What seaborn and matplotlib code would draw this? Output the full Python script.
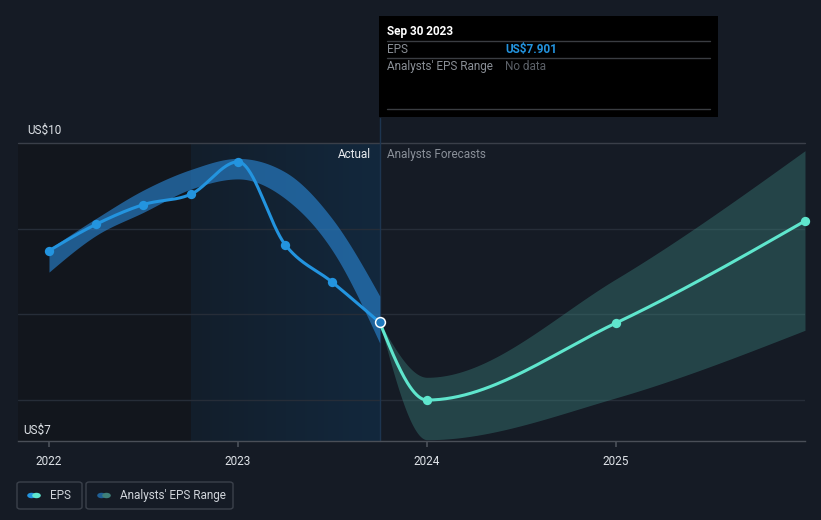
import numpy as np
import pandas as pd
import matplotlib
matplotlib.use("Agg")
import matplotlib.pyplot as plt
import seaborn as sns
from matplotlib.patches import Rectangle, FancyBboxPatch, Circle
from matplotlib.lines import Line2D
from matplotlib.colors import LinearSegmentedColormap

# ---------------- data ----------------
actual_dates = [2022.0, 2022.25, 2022.5, 2022.75, 2023.0, 2023.25, 2023.5, 2023.75]
actual_eps = [8.74, 9.05, 9.28, 9.40, 9.78, 8.81, 8.37, 7.901]

past_band_dates = [2022.0, 2022.25, 2022.5, 2022.75, 2023.0, 2023.25, 2023.5, 2023.75]
past_band_upper = [8.76, 9.12, 9.45, 9.69, 9.82, 9.66, 9.11, 8.21]
past_band_lower = [8.49, 8.92, 9.19, 9.46, 9.58, 9.35, 8.74, 7.66]

fc_dates = [2023.75, 2024.0, 2025.0, 2026.0]
fc_eps = [7.901, 6.994, 7.895, 9.088]
fc_upper = [7.901, 7.26, 8.41, 9.91]
fc_lower = [7.901, 6.53, 7.02, 7.81]

ytick_labels = ["US$10", "US$7"]
xtick_vals = [2022, 2023, 2024, 2025]
xtick_labels = ["2022", "2023", "2024", "2025"]

# ---------------- helpers ----------------
def monotone(x, y, n=60):
    x = np.asarray(x, float); y = np.asarray(y, float)
    h = np.diff(x); s = np.diff(y) / h
    m = np.zeros_like(y)
    for i in range(1, len(y) - 1):
        p = (s[i-1] * h[i] + s[i] * h[i-1]) / (h[i-1] + h[i])
        m[i] = (np.sign(s[i-1]) + np.sign(s[i])) * min(abs(s[i-1]), abs(s[i]), 0.5 * abs(p))
    if len(y) > 2:
        m[0] = (3 * s[0] - m[1]) / 2
        m[-1] = (3 * s[-1] - m[-2]) / 2
    else:
        m[:] = s[0]
    xs, ys = [], []
    for i in range(len(h)):
        t = np.linspace(0, 1, n, endpoint=(i == len(h) - 1))
        h00 = 2*t**3 - 3*t**2 + 1; h10 = t**3 - 2*t**2 + t
        h01 = -2*t**3 + 3*t**2; h11 = t**3 - t**2
        xs.append(x[i] + t * h[i])
        ys.append(h00*y[i] + h10*h[i]*m[i] + h01*y[i+1] + h11*h[i]*m[i+1])
    return np.concatenate(xs), np.concatenate(ys)

BG = "#151b25"
sns.set_theme(style="dark", rc={"axes.facecolor": BG, "figure.facecolor": BG})
plt.rcParams["font.family"] = ["Roboto", "DejaVu Sans"]

fig = plt.figure(figsize=(8.21, 5.20), dpi=100)
ax = fig.add_axes([18/821, 1 - 441/520, (805-18)/821, (441-143)/520])
ax.set_facecolor(BG)

XMIN, XMAX = 2021.836, 2026.0
YMIN, YMAX = 6.515, 10.0
ax.set_xlim(XMIN, XMAX)
ax.set_ylim(YMIN, YMAX)

# shaded regions
ax.axvspan(XMIN, 2022.75, color="#12161d", zorder=0, lw=0)
grad = np.linspace(0, 1, 512).reshape(1, -1)
cmap = LinearSegmentedColormap.from_list("g", ["#121e2b", "#13283d"], N=1024)
ax.imshow(grad, extent=[2022.75, 2023.75, YMIN, YMAX], aspect="auto", cmap=cmap,
          zorder=0.5, interpolation="bilinear")

# grid lines
for v in [9, 8, 7]:
    ax.axhline(v, color="#262d38", lw=1, zorder=1)
ax.axhline(10, color="#3a3f49", lw=1, zorder=1, clip_on=False)

# past band
bx, bu = monotone(past_band_dates, past_band_upper)
_, bl = monotone(past_band_dates, past_band_lower)
ax.fill_between(bx, bl, bu, color="#2a86d4", alpha=0.62, lw=0, zorder=2)

# forecast band
fx, fu = monotone(fc_dates, fc_upper)
_, fl = monotone(fc_dates, fc_lower)
ax.fill_between(fx, fl, fu, color="#3f8f88", alpha=0.36, lw=0, zorder=2)

# hover line
ax.plot([2023.75, 2023.75], [YMIN, YMAX + 25/85.5], color="#1d3550", lw=1.0, zorder=1.5, clip_on=False)

# lines
ax_x, ax_y = monotone(actual_dates, actual_eps)
df_a = pd.DataFrame({"date": ax_x, "eps": ax_y})
sns.lineplot(data=df_a, x="date", y="eps", ax=ax, color="#2394df", lw=2.2, zorder=4, sort=False)
fx2, fy2 = monotone(fc_dates, fc_eps)
df_f = pd.DataFrame({"date": fx2, "eps": fy2})
sns.lineplot(data=df_f, x="date", y="eps", ax=ax, color="#5fe6cd", lw=2.2, zorder=4, sort=False)

# points
df_ap = pd.DataFrame({"date": actual_dates[:-1], "eps": actual_eps[:-1]})
sns.scatterplot(data=df_ap, x="date", y="eps", ax=ax, color="#2394df", s=45, linewidth=0, zorder=5)
df_fp = pd.DataFrame({"date": fc_dates[1:], "eps": fc_eps[1:]})
sns.scatterplot(data=df_fp, x="date", y="eps", ax=ax, color="#5fe6cd", s=45, linewidth=0, zorder=5, clip_on=False)
ax.scatter([actual_dates[-1]], [actual_eps[-1]], s=50, color="#2079bd", edgecolor="white", linewidth=1.1, zorder=6)

# axes decorations
for sp in ["top", "right", "left"]:
    ax.spines[sp].set_visible(False)
ax.spines["bottom"].set_color("#4a4f58")
ax.spines["bottom"].set_linewidth(1)
ax.set_xticks(xtick_vals)
ax.set_xticklabels(xtick_labels, color="#dfe3e8", fontsize=8.5)
ax.tick_params(axis="x", length=4, color="#4a4f58", pad=6, bottom=True)
ax.set_yticks([])
ax.set_xlabel(""); ax.set_ylabel("")
ax.grid(False)

fig.text(27/821, 1 - 130/520, ytick_labels[0], color="#dfe3e8", fontsize=8.5, va="center", ha="left")
fig.text(23/821, 1 - 430/520, ytick_labels[1], color="#dfe3e8", fontsize=8.5, va="center", ha="left")

fig.text(371/821, 1 - 154/520, "Actual", color="#e8ebef", fontsize=8.5, va="center", ha="right")
fig.text(387/821, 1 - 154/520, "Analysts Forecasts", color="#8a9099", fontsize=8.5, va="center", ha="left")

# tooltip
def fx_(px): return px / 821
def fy_(py): return 1 - py / 520
fig.patches.append(Rectangle((fx_(379), fy_(117)), fx_(718) - fx_(379), fy_(16) - fy_(117),
                             transform=fig.transFigure, facecolor="black", edgecolor="none", zorder=10))
for yy in [41, 58, 109]:
    fig.lines.append(Line2D([fx_(387), fx_(710)], [fy_(yy), fy_(yy)], transform=fig.transFigure,
                            color="#3a3d42", lw=1, zorder=11))
fig.text(fx_(387), fy_(31), "Sep 30 2023", color="white", fontsize=8.5, fontweight="bold", va="center", zorder=12)
fig.text(fx_(387), fy_(49.5), "EPS", color="#8a8f96", fontsize=8.5, va="center", zorder=12)
fig.text(fx_(505), fy_(49.5), "US$7.901", color="#2394df", fontsize=8.5, fontweight="bold", va="center", zorder=12)
fig.text(fx_(387), fy_(66.5), "Analysts' EPS Range", color="#8a8f96", fontsize=8.5, va="center", zorder=12)
fig.text(fx_(505), fy_(66.5), "No data", color="#5c6168", fontsize=8.5, va="center", zorder=12)

# legend
def box(x0, x1):
    fig.patches.append(FancyBboxPatch((fx_(x0), fy_(509)), fx_(x1) - fx_(x0), fy_(482) - fy_(509),
                                      boxstyle="round,pad=0,rounding_size=0.004", transform=fig.transFigure,
                                      facecolor="none", edgecolor="#3b414b", lw=1, zorder=10))
box(17, 82)
box(86, 233)
def dot(px, color):
    fig.patches.append(Circle((fx_(px), fy_(495.5)), 4.3/821, transform=fig.transFigure,
                              facecolor=color, edgecolor="none", zorder=11))
dot(31.5, "#2394df"); dot(36.5, "#5fe6cd")
dot(101.5, "#1f5f95"); dot(106.5, "#3f8079")
fig.text(fx_(50), fy_(495.5), "EPS", color="#d0d4da", fontsize=8.5, va="center", zorder=12)
fig.text(fx_(120), fy_(495.5), "Analysts' EPS Range", color="#d0d4da", fontsize=8.5, va="center", zorder=12)

fig.savefig("out.png", dpi=100, facecolor=BG)
